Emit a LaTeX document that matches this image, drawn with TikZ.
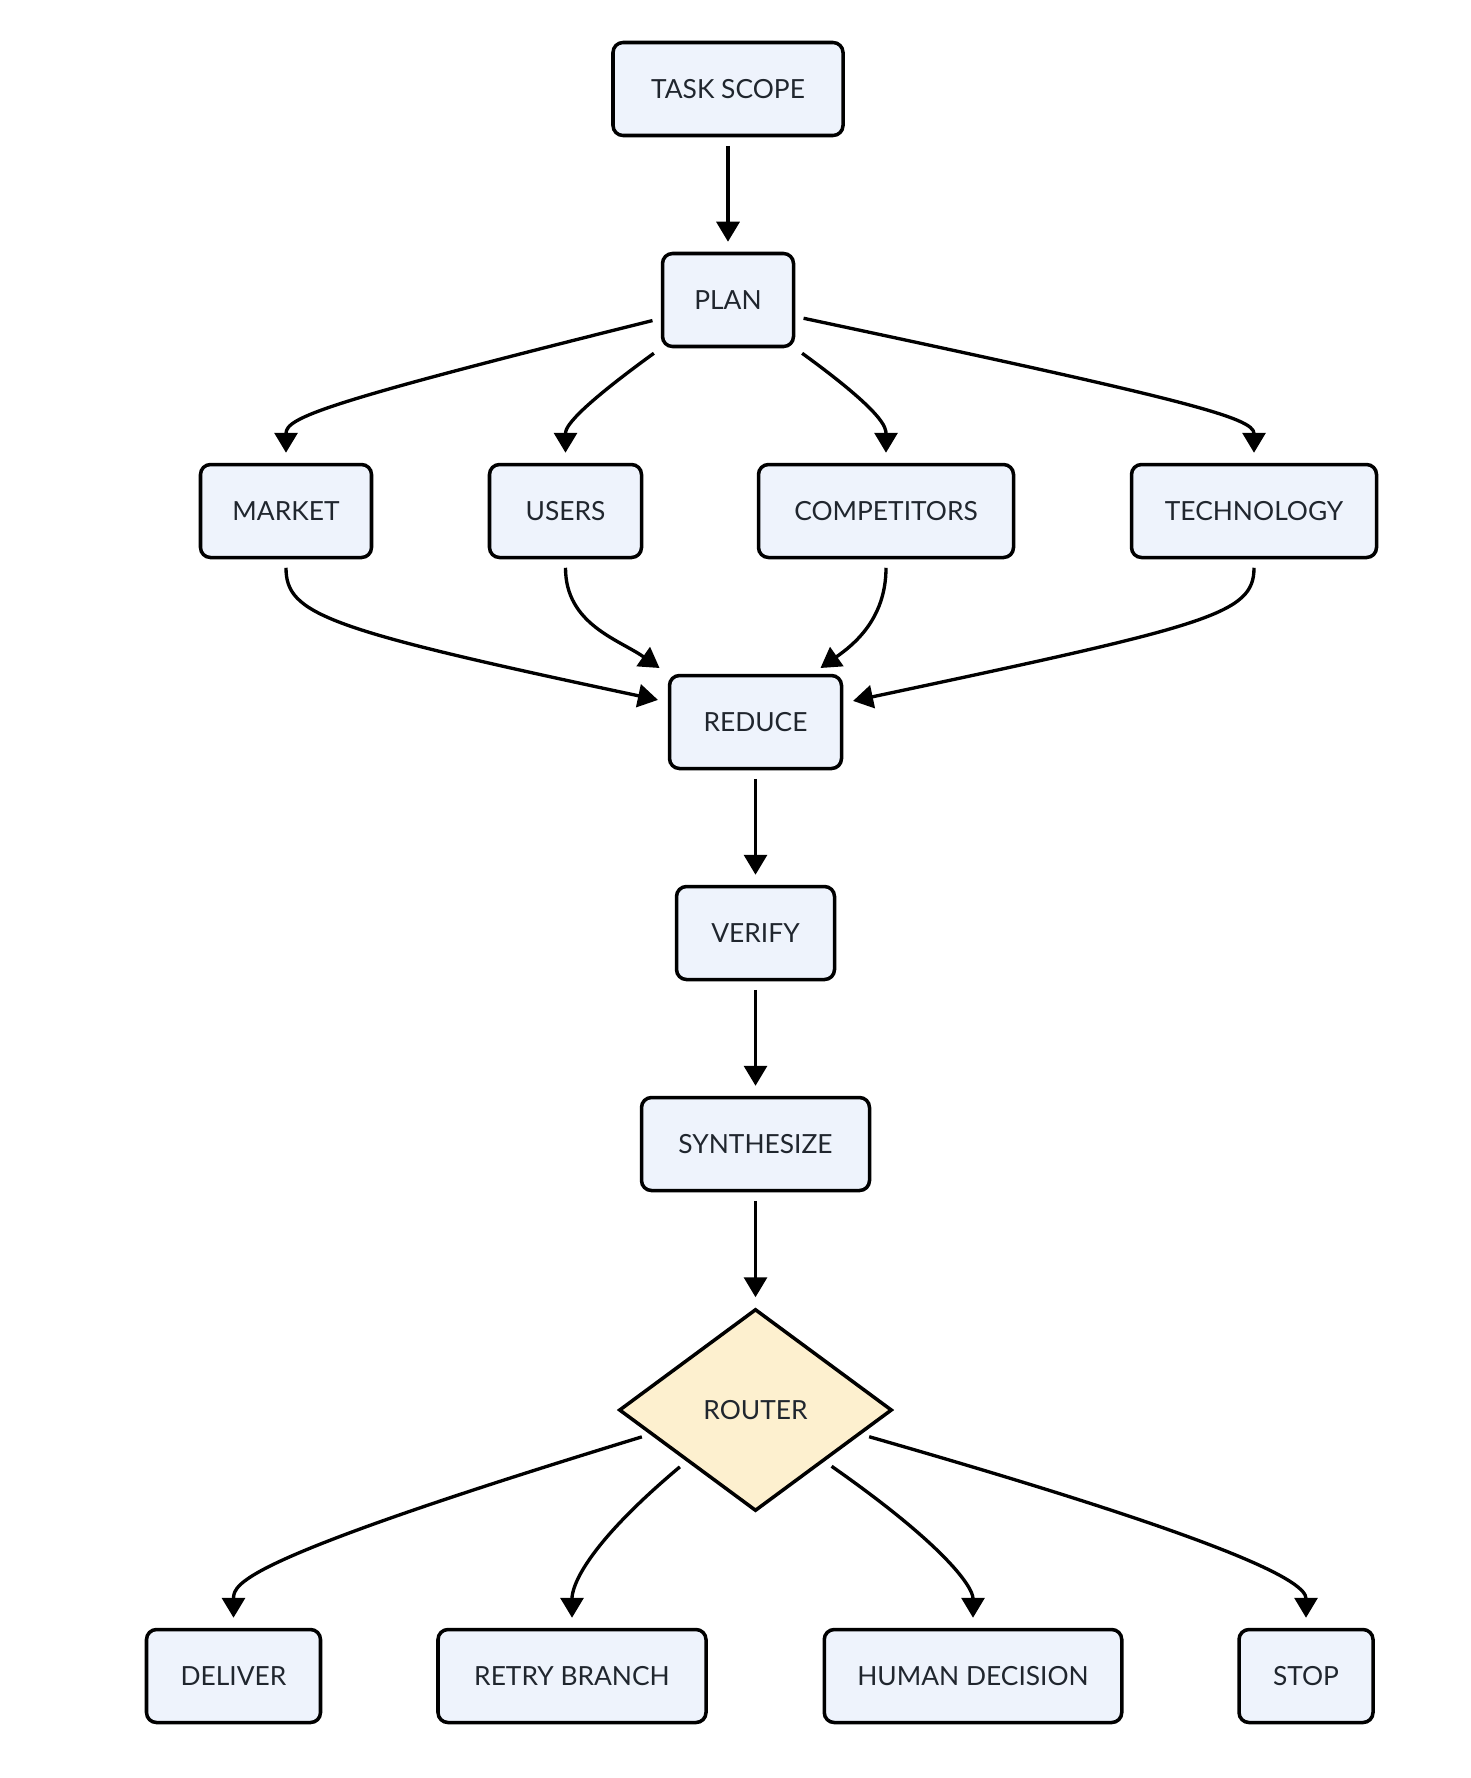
\documentclass[tikz,border=0pt]{standalone}
\usepackage{fontspec}
\setmainfont{Lato}
\usetikzlibrary{arrows.meta,shapes.geometric}
\definecolor{boxfill}{HTML}{EEF3FC}
\definecolor{routerfill}{HTML}{FDF0CF}
\definecolor{inktext}{HTML}{20262E}
\begin{document}
\begin{tikzpicture}[
  box/.style={draw,line width=2pt,rounded corners=0.2cm,fill=boxfill,minimum height=1.86cm,text=inktext,font=\fontsize{15}{18}\selectfont},
  decide/.style={diamond,draw,line width=2pt,fill=routerfill,minimum width=5.46cm,minimum height=4.04cm,inner sep=0pt,text=inktext,font=\fontsize{15}{18}\selectfont},
  arr/.style={line width=1.9pt,-{Triangle[length=0.4cm,width=0.46cm]},shorten <=0.17cm,shorten >=0.2cm}]
 \useasboundingbox (0,0) rectangle (29.4,-35.56); % page frame
 \node[box,minimum width=4.6cm] (scope) at (14.56,-1.78) {TASK SCOPE};
 \node[box,minimum width=2.62cm] (plan) at (14.56,-6.0) {PLAN};
 % the four research branches
 \node[box,minimum width=3.42cm] (market) at (5.72,-10.22) {MARKET};
 \node[box,minimum width=3.04cm] (users) at (11.31,-10.22) {USERS};
 \node[box,minimum width=5.1cm] (competitors) at (17.72,-10.22) {COMPETITORS};
 \node[box,minimum width=4.9cm] (technology) at (25.08,-10.22) {TECHNOLOGY};
 \node[box,minimum width=3.44cm] (reduce) at (15.11,-14.44) {REDUCE};
 \node[box,minimum width=3.16cm] (verify) at (15.11,-18.66) {VERIFY};
 \node[box,minimum width=4.56cm] (synthesize) at (15.11,-22.88) {SYNTHESIZE};
 \node[decide] (router) at (15.11,-28.2) {ROUTER};
 % outcomes of the router
 \node[box,minimum width=3.48cm] (deliver) at (4.67,-33.52) {DELIVER};
 \node[box,minimum width=5.36cm] (retry) at (11.44,-33.52) {RETRY BRANCH};
 \node[box,minimum width=5.95cm] (human) at (19.46,-33.52) {HUMAN DECISION};
 \node[box,minimum width=2.68cm] (stop) at (26.12,-33.52) {STOP};
 \foreach \a/\b in {scope/plan,reduce/verify,verify/synthesize,synthesize/router} % straight chain
   \draw[arr] (\a) -- (\b);
 \draw[arr] ([yshift=-0.37cm]plan.west) to[out=194,in=90,out distance=7cm,in distance=0.9cm] (market.north);
 \draw[arr] (plan.south west) to[out=216,in=90,out distance=2.2cm,in distance=0.7cm] (users.north);
 \draw[arr] (plan.south east) to[out=-36,in=90,out distance=2.2cm,in distance=0.7cm] (competitors.north);
 \draw[arr] ([yshift=-0.33cm]plan.east) to[out=-12,in=90,out distance=8cm,in distance=0.9cm] (technology.north);
 % branches back into reduce
 \draw[arr] (market.south) to[out=-90,in=168,out distance=1.1cm,in distance=7cm] ([yshift=0.4cm]reduce.west);
 \draw[arr] (users.south) to[out=-90,in=145,out distance=1.3cm,in distance=1.2cm] (reduce.north west);
 \draw[arr] (competitors.south) to[out=-90,in=35,out distance=1.2cm,in distance=1cm] ([xshift=-0.62cm]reduce.north east);
 \draw[arr] (technology.south) to[out=-90,in=12,out distance=1.1cm,in distance=7.5cm] ([yshift=0.38cm]reduce.east);
 % router fan out
 \draw[arr] (router.193) to[out=197,in=90,out distance=8.5cm,in distance=0.9cm] (deliver.north);
 \draw[arr] (router.south west) to[out=220,in=90,out distance=2.7cm,in distance=0.8cm] (retry.north);
 \draw[arr] (router.south east) to[out=-35,in=90,out distance=3cm,in distance=0.8cm] (human.north);
 \draw[arr] (router.-13) to[out=-16,in=90,out distance=8cm,in distance=0.9cm] (stop.north);
\end{tikzpicture}
\end{document}
